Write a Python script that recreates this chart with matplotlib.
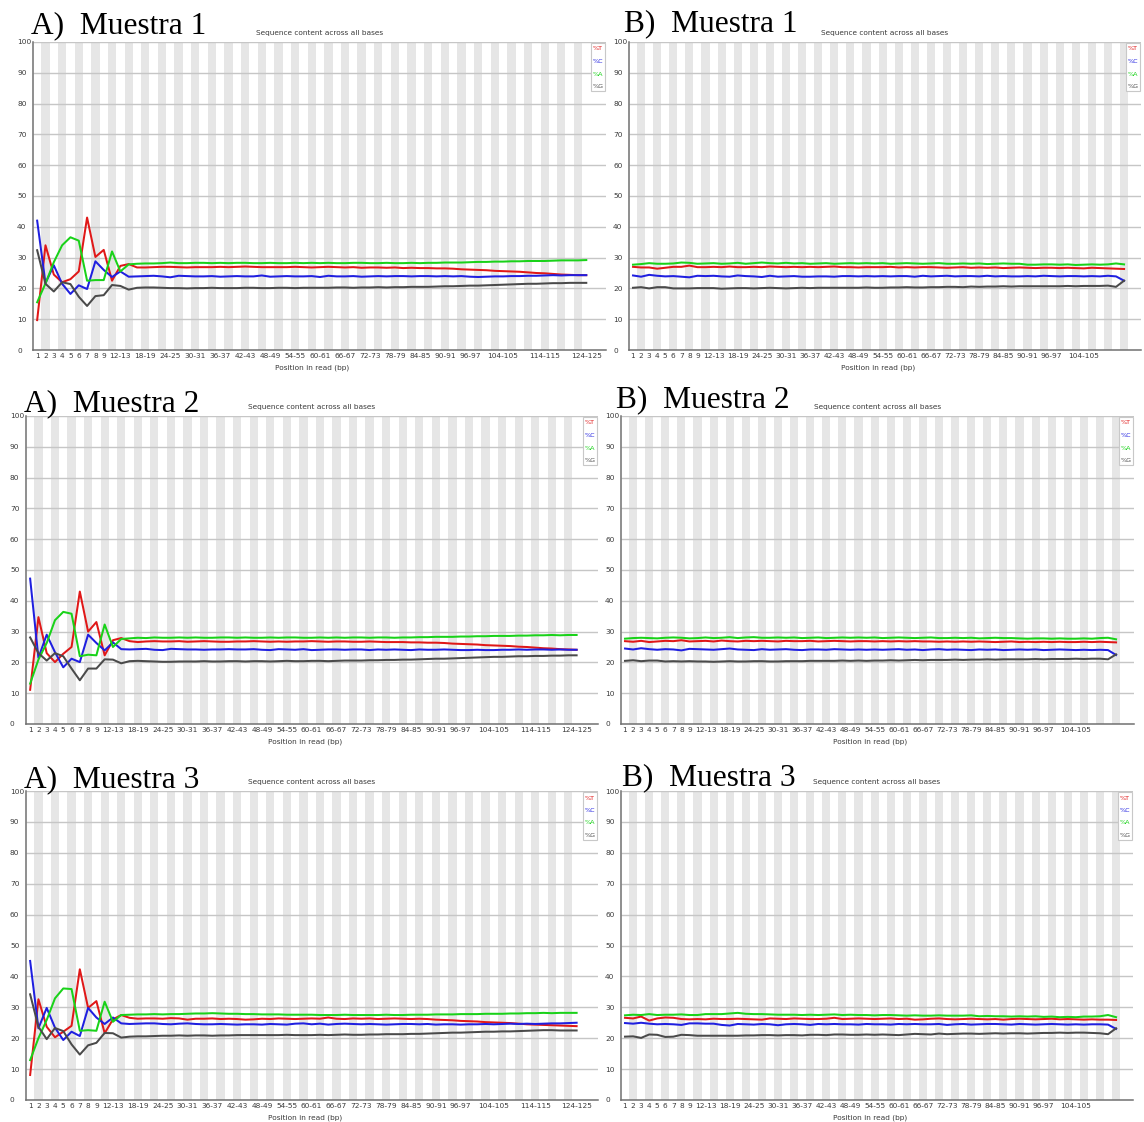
import numpy as np
import matplotlib
matplotlib.use("Agg")
import matplotlib.pyplot as plt
from matplotlib.patches import Rectangle

W, H = 1144, 1122

# ---------------------------------------------------------------------------
# Base-position groups (single bases 1-9, then 2-bp bins)
# ---------------------------------------------------------------------------
def base_groups(last_start):
    groups = [str(i) for i in range(1, 10)]
    groups += [f"{s}-{s + 1}" for s in range(10, last_start + 1, 2)]
    return groups

positions_A = base_groups(124)   # 1 .. 124-125  (67 groups)
positions_B = base_groups(114)   # 1 .. 114-115  (62 groups)

ticks_A = ["1", "2", "3", "4", "5", "6", "7", "8", "9", "12-13", "18-19",
           "24-25", "30-31", "36-37", "42-43", "48-49", "54-55", "60-61",
           "66-67", "72-73", "78-79", "84-85", "90-91", "96-97", "104-105",
           "114-115", "124-125"]
ticks_B = ticks_A[:-2]

# ---------------------------------------------------------------------------
# Percent of each base per position: A) raw reads, B) trimmed reads
# ---------------------------------------------------------------------------
A1_T = [9.7, 34.0, 24.5, 22.0, 23.0, 25.5, 43.0, 30.2, 32.5, 22.5,
        27.3, 27.9, 26.8, 26.8, 26.9, 27.0, 27.0, 26.9, 26.8, 26.9,
        26.9, 26.9, 27.0, 26.9, 27.0, 27.1, 27.0, 26.9, 26.9, 26.9,
        26.9, 27.0, 26.9, 26.8, 26.9, 27.0, 26.9, 26.8, 26.9, 26.7,
        26.8, 26.8, 26.7, 26.8, 26.6, 26.7, 26.6, 26.6, 26.5, 26.5,
        26.4, 26.2, 26.1, 26.0, 25.9, 25.7, 25.6, 25.5, 25.4, 25.2,
        25.0, 24.9, 24.7, 24.5, 24.4, 24.3, 24.3]
A1_C = [42.0, 21.7, 27.5, 21.5, 18.2, 21.0, 19.8, 28.8, 26.0, 23.7,
        25.5, 23.8, 23.9, 24.0, 24.1, 23.9, 23.6, 24.1, 24.0, 23.9,
        23.9, 24.0, 23.8, 23.9, 24.0, 23.9, 23.9, 24.2, 23.8, 23.9,
        24.0, 23.9, 23.9, 24.0, 23.7, 24.1, 23.9, 23.9, 24.0, 23.8,
        23.9, 24.0, 23.9, 24.0, 24.0, 23.9, 24.0, 24.0, 23.9, 24.0,
        23.9, 24.0, 23.8, 23.7, 23.8, 23.9, 23.9, 24.0, 24.0, 24.1,
        24.1, 24.2, 24.3, 24.2, 24.3, 24.3, 24.3]
A1_A = [15.5, 21.6, 28.5, 34.0, 36.6, 35.5, 22.5, 22.7, 22.7, 32.0,
        25.5, 27.8, 28.0, 28.1, 28.1, 28.2, 28.4, 28.2, 28.2, 28.3,
        28.3, 28.2, 28.3, 28.2, 28.3, 28.3, 28.2, 28.2, 28.3, 28.2,
        28.2, 28.3, 28.2, 28.3, 28.2, 28.3, 28.2, 28.2, 28.3, 28.3,
        28.2, 28.2, 28.3, 28.2, 28.2, 28.3, 28.2, 28.3, 28.3, 28.4,
        28.4, 28.4, 28.5, 28.6, 28.6, 28.7, 28.7, 28.8, 28.8, 28.9,
        28.9, 28.9, 29.0, 29.1, 29.1, 29.1, 29.2]
A1_G = [32.4, 21.5, 19.0, 22.0, 21.4, 17.3, 14.3, 17.5, 17.8, 21.1,
        20.8, 19.6, 20.2, 20.3, 20.3, 20.2, 20.1, 20.1, 20.0, 20.1,
        20.1, 20.2, 20.1, 20.1, 20.1, 20.2, 20.2, 20.1, 20.1, 20.2,
        20.2, 20.1, 20.2, 20.2, 20.2, 20.2, 20.3, 20.3, 20.2, 20.3,
        20.3, 20.4, 20.3, 20.4, 20.4, 20.5, 20.5, 20.5, 20.6, 20.7,
        20.7, 20.8, 20.9, 20.9, 21.0, 21.1, 21.2, 21.3, 21.4, 21.5,
        21.5, 21.6, 21.7, 21.7, 21.8, 21.8, 21.8]

A2_T = [11.1, 34.7, 23.0, 20.1, 22.8, 25.0, 43.0, 30.0, 33.1, 22.3,
        27.2, 27.9, 26.9, 26.6, 26.8, 26.9, 26.8, 26.8, 26.9, 26.7,
        26.8, 26.9, 26.8, 26.7, 26.7, 26.8, 26.8, 26.9, 26.8, 26.7,
        26.8, 26.7, 26.8, 26.8, 26.9, 26.8, 26.7, 26.8, 26.8, 26.7,
        26.7, 26.8, 26.7, 26.6, 26.6, 26.6, 26.5, 26.5, 26.4, 26.4,
        26.3, 26.1, 26.0, 25.9, 25.8, 25.6, 25.5, 25.4, 25.3, 25.1,
        25.0, 24.8, 24.6, 24.5, 24.3, 24.2, 24.1]
A2_C = [47.2, 21.5, 29.0, 23.3, 18.4, 21.2, 20.1, 29.0, 26.3, 23.9,
        26.5, 24.3, 24.2, 24.3, 24.4, 24.1, 24.0, 24.4, 24.3, 24.2,
        24.2, 24.1, 24.2, 24.2, 24.3, 24.2, 24.2, 24.3, 24.1, 24.0,
        24.3, 24.2, 24.1, 24.3, 24.0, 24.1, 24.2, 24.2, 24.1, 24.2,
        24.2, 24.0, 24.2, 24.1, 24.2, 24.1, 24.0, 24.2, 24.1, 24.1,
        24.2, 24.1, 24.0, 24.0, 24.1, 24.0, 24.0, 24.1, 24.1, 24.2,
        24.1, 24.2, 24.2, 24.1, 24.2, 24.1, 24.1]
A2_A = [13.1, 20.9, 26.3, 33.7, 36.4, 35.8, 22.0, 22.5, 22.3, 32.3,
        25.0, 27.6, 27.8, 28.0, 27.9, 28.1, 28.0, 28.0, 28.1, 28.0,
        28.1, 28.0, 28.0, 28.1, 28.1, 28.0, 28.1, 28.0, 28.0, 28.1,
        28.0, 28.1, 28.1, 28.0, 28.0, 28.1, 28.0, 28.1, 28.0, 28.1,
        28.1, 28.0, 28.1, 28.1, 28.0, 28.1, 28.1, 28.2, 28.2, 28.3,
        28.3, 28.3, 28.4, 28.4, 28.5, 28.5, 28.6, 28.6, 28.6, 28.7,
        28.7, 28.8, 28.8, 28.9, 28.8, 28.9, 28.9]
A2_G = [28.1, 23.0, 20.6, 23.0, 22.0, 18.0, 14.2, 18.0, 18.0, 21.0,
        20.9, 19.7, 20.4, 20.5, 20.4, 20.3, 20.2, 20.2, 20.3, 20.3,
        20.3, 20.4, 20.3, 20.3, 20.4, 20.4, 20.3, 20.4, 20.4, 20.3,
        20.4, 20.5, 20.4, 20.4, 20.5, 20.5, 20.4, 20.5, 20.6, 20.6,
        20.6, 20.7, 20.7, 20.8, 20.8, 20.9, 20.9, 21.0, 21.1, 21.2,
        21.2, 21.3, 21.4, 21.5, 21.6, 21.7, 21.8, 21.8, 21.9, 22.0,
        22.0, 22.1, 22.1, 22.2, 22.2, 22.3, 22.3]

A3_T = [8.1, 32.6, 23.7, 20.3, 22.1, 24.0, 42.3, 29.8, 32.0, 21.6,
        26.1, 27.5, 26.6, 26.3, 26.4, 26.4, 26.3, 26.5, 26.4, 26.0,
        26.3, 26.3, 26.4, 26.2, 26.3, 26.2, 26.0, 26.1, 26.3, 26.2,
        26.4, 26.3, 26.2, 26.3, 26.4, 26.3, 26.7, 26.3, 26.2, 26.4,
        26.3, 26.4, 26.2, 26.3, 26.4, 26.3, 26.2, 26.3, 26.2, 26.0,
        25.9, 25.8, 25.6, 25.5, 25.4, 25.2, 25.1, 25.0, 24.9, 24.7,
        24.5, 24.4, 24.3, 24.2, 24.1, 24.0, 23.9]
A3_C = [45.0, 23.2, 29.8, 23.4, 19.4, 22.1, 20.7, 29.8, 26.7, 24.6,
        26.7, 24.8, 24.6, 24.7, 24.8, 24.8, 24.6, 24.5, 24.7, 24.8,
        24.6, 24.5, 24.5, 24.6, 24.5, 24.4, 24.5, 24.5, 24.4, 24.6,
        24.5, 24.4, 24.7, 24.8, 24.5, 24.7, 24.4, 24.6, 24.7, 24.6,
        24.5, 24.6, 24.5, 24.4, 24.5, 24.6, 24.6, 24.5, 24.6, 24.4,
        24.5, 24.5, 24.4, 24.5, 24.5, 24.6, 24.5, 24.6, 24.7, 24.6,
        24.7, 24.6, 24.7, 24.8, 24.8, 24.9, 25.0]
A3_A = [12.9, 20.0, 25.9, 32.9, 36.1, 35.9, 22.4, 22.6, 22.4, 31.8,
        25.3, 27.5, 27.6, 27.7, 27.7, 27.8, 27.7, 27.8, 27.8, 27.9,
        28.0, 28.0, 28.1, 28.0, 27.9, 27.9, 27.8, 27.8, 27.7, 27.7,
        27.7, 27.6, 27.6, 27.6, 27.6, 27.5, 27.5, 27.5, 27.6, 27.5,
        27.5, 27.5, 27.5, 27.6, 27.5, 27.5, 27.6, 27.6, 27.6, 27.7,
        27.7, 27.7, 27.8, 27.8, 27.8, 27.9, 27.9, 27.9, 28.0, 28.0,
        28.1, 28.1, 28.2, 28.1, 28.2, 28.2, 28.2]
A3_G = [34.2, 23.7, 19.7, 23.3, 22.3, 18.0, 14.7, 17.7, 18.5, 21.7,
        21.6, 20.2, 20.5, 20.6, 20.6, 20.7, 20.8, 20.8, 20.9, 20.8,
        20.9, 20.9, 20.8, 20.9, 20.9, 21.0, 21.0, 21.0, 21.0, 21.0,
        21.0, 21.1, 21.0, 21.0, 21.0, 21.1, 21.0, 21.1, 21.2, 21.1,
        21.1, 21.2, 21.2, 21.3, 21.3, 21.3, 21.4, 21.4, 21.5, 21.6,
        21.7, 21.8, 21.8, 21.9, 22.0, 22.1, 22.1, 22.2, 22.2, 22.3,
        22.4, 22.5, 22.6, 22.6, 22.5, 22.5, 22.5]

B1_T = [27.0, 26.8, 26.8, 26.4, 26.7, 27.0, 27.0, 27.4, 26.9, 26.9,
        27.0, 26.9, 27.1, 26.9, 26.9, 27.0, 26.9, 27.1, 27.0, 26.9,
        27.0, 26.9, 27.0, 26.9, 27.0, 27.1, 26.9, 26.9, 26.8, 26.9,
        26.9, 26.9, 27.0, 26.8, 26.9, 26.8, 26.9, 26.9, 26.8, 26.7,
        26.8, 26.9, 26.7, 26.8, 26.7, 26.8, 26.6, 26.7, 26.8, 26.7,
        26.6, 26.7, 26.7, 26.6, 26.7, 26.6, 26.5, 26.7, 26.6, 26.5,
        26.4, 26.3]
B1_C = [24.2, 23.8, 24.4, 24.1, 23.9, 24.0, 23.8, 23.6, 24.1, 24.0,
        24.1, 23.9, 23.8, 24.2, 24.0, 23.9, 23.7, 24.1, 23.8, 23.9,
        24.0, 23.8, 23.8, 23.9, 23.9, 23.8, 24.0, 24.0, 23.9, 24.0,
        23.9, 24.0, 23.9, 24.0, 24.0, 23.8, 24.1, 23.9, 24.0, 24.1,
        23.9, 24.0, 24.0, 23.9, 24.1, 23.9, 24.0, 23.9, 23.9, 24.0,
        23.9, 24.1, 24.0, 23.9, 24.0, 24.0, 23.9, 24.0, 23.9, 24.1,
        23.9, 22.5]
B1_A = [27.7, 27.9, 28.2, 28.0, 28.0, 28.1, 28.4, 28.3, 28.0, 28.1,
        28.2, 28.0, 28.1, 28.3, 28.0, 28.2, 28.4, 28.2, 28.1, 28.3,
        28.1, 28.2, 28.0, 28.1, 28.2, 28.0, 28.1, 28.2, 28.1, 28.2,
        28.1, 28.2, 28.0, 28.1, 28.2, 28.1, 28.0, 28.1, 28.2, 28.0,
        28.0, 28.1, 28.0, 28.1, 27.9, 28.0, 28.1, 28.0, 28.0, 27.7,
        27.7, 27.8, 27.8, 27.7, 27.8, 27.6, 27.7, 27.8, 27.7, 27.8,
        28.1, 27.8]
B1_G = [20.2, 20.4, 20.0, 20.4, 20.4, 20.0, 20.0, 20.0, 20.1, 20.1,
        20.1, 19.9, 20.0, 20.1, 20.1, 20.0, 20.1, 20.2, 20.1, 20.0,
        20.1, 20.2, 20.1, 20.2, 20.2, 20.2, 20.2, 20.2, 20.2, 20.3,
        20.2, 20.2, 20.3, 20.3, 20.4, 20.3, 20.3, 20.4, 20.4, 20.5,
        20.5, 20.4, 20.6, 20.5, 20.6, 20.6, 20.7, 20.6, 20.7, 20.7,
        20.7, 20.7, 20.7, 20.7, 20.8, 20.7, 20.8, 20.8, 20.8, 20.9,
        20.5, 22.5]

B2_T = [26.9, 26.7, 27.0, 26.6, 26.8, 27.0, 26.9, 27.2, 26.8, 26.9,
        27.0, 26.8, 27.1, 26.9, 26.8, 27.0, 26.9, 27.0, 26.9, 26.8,
        27.0, 26.9, 26.9, 27.0, 26.8, 26.9, 27.0, 26.9, 26.8, 26.9,
        26.9, 26.8, 26.9, 26.8, 26.9, 26.8, 26.9, 26.8, 26.8, 26.7,
        26.8, 26.7, 26.8, 26.7, 26.8, 26.7, 26.6, 26.7, 26.8, 26.6,
        26.7, 26.6, 26.7, 26.6, 26.7, 26.6, 26.6, 26.7, 26.6, 26.7,
        26.6, 26.5]
B2_C = [24.5, 24.2, 24.6, 24.3, 24.1, 24.3, 24.2, 23.9, 24.4, 24.3,
        24.2, 24.1, 24.3, 24.5, 24.2, 24.1, 24.0, 24.3, 24.1, 24.2,
        24.3, 24.1, 24.0, 24.2, 24.2, 24.1, 24.3, 24.2, 24.1, 24.2,
        24.1, 24.2, 24.1, 24.2, 24.3, 24.1, 24.2, 24.0, 24.2, 24.3,
        24.1, 24.2, 24.1, 24.0, 24.2, 24.1, 24.2, 24.0, 24.1, 24.2,
        24.1, 24.2, 24.0, 24.1, 24.2, 24.1, 24.0, 24.1, 24.0, 24.1,
        24.0, 22.4]
B2_A = [27.7, 27.9, 28.0, 27.9, 27.8, 28.0, 28.1, 28.0, 27.8, 27.9,
        28.1, 27.9, 28.0, 28.2, 27.9, 28.1, 28.2, 28.0, 28.0, 28.1,
        28.0, 28.1, 27.9, 28.0, 28.1, 27.9, 28.0, 28.1, 28.0, 28.1,
        28.0, 28.1, 27.9, 28.0, 28.1, 28.0, 27.9, 28.0, 28.1, 27.9,
        27.9, 28.0, 27.9, 28.0, 27.8, 27.9, 28.0, 27.9, 27.9, 27.8,
        27.7, 27.8, 27.8, 27.7, 27.8, 27.7, 27.7, 27.8, 27.7, 27.9,
        28.0, 27.5]
B2_G = [20.5, 20.7, 20.4, 20.6, 20.6, 20.3, 20.4, 20.3, 20.4, 20.3,
        20.3, 20.2, 20.3, 20.4, 20.3, 20.3, 20.4, 20.4, 20.3, 20.3,
        20.4, 20.4, 20.4, 20.5, 20.5, 20.5, 20.5, 20.6, 20.5, 20.6,
        20.5, 20.6, 20.6, 20.7, 20.6, 20.7, 20.8, 20.7, 20.8, 20.8,
        20.8, 20.9, 20.8, 20.9, 20.9, 21.0, 20.9, 21.0, 21.0, 21.0,
        21.0, 21.1, 21.0, 21.1, 21.1, 21.1, 21.2, 21.1, 21.2, 21.2,
        21.0, 22.6]

B3_T = [26.6, 26.4, 27.0, 25.7, 26.4, 26.7, 26.6, 26.2, 26.1, 26.2,
        26.1, 26.3, 26.2, 26.2, 26.3, 26.2, 26.1, 26.0, 26.4, 26.3,
        26.2, 26.4, 26.3, 26.2, 26.2, 26.3, 26.6, 26.2, 26.3, 26.4,
        26.3, 26.2, 26.3, 26.4, 26.2, 26.3, 26.0, 26.1, 26.3, 26.4,
        26.2, 26.1, 26.2, 26.3, 26.2, 26.1, 26.2, 26.0, 26.2, 26.3,
        26.2, 26.1, 26.2, 26.3, 26.1, 26.2, 26.1, 26.0, 26.1, 26.0,
        26.0, 25.9]
B3_C = [24.9, 24.7, 25.0, 24.7, 24.5, 24.6, 24.5, 24.3, 24.8, 24.8,
        24.7, 24.7, 24.3, 24.1, 24.6, 24.5, 24.4, 24.6, 24.5, 24.2,
        24.5, 24.6, 24.5, 24.3, 24.6, 24.5, 24.6, 24.5, 24.5, 24.4,
        24.6, 24.5, 24.5, 24.4, 24.6, 24.5, 24.6, 24.5, 24.5, 24.6,
        24.3, 24.5, 24.6, 24.4, 24.5, 24.6, 24.6, 24.5, 24.4, 24.6,
        24.5, 24.4, 24.5, 24.6, 24.5, 24.4, 24.5, 24.4, 24.5, 24.5,
        24.4, 23.0]
B3_A = [27.4, 27.6, 27.5, 27.8, 27.5, 27.6, 27.6, 27.7, 27.5, 27.5,
        27.8, 27.8, 27.8, 28.0, 28.2, 27.9, 27.8, 27.8, 27.7, 27.6,
        27.6, 27.6, 27.5, 27.6, 27.5, 27.6, 27.7, 27.5, 27.6, 27.5,
        27.5, 27.4, 27.5, 27.5, 27.4, 27.3, 27.4, 27.3, 27.3, 27.4,
        27.3, 27.3, 27.3, 27.4, 27.1, 27.2, 27.1, 27.1, 27.0, 27.1,
        27.0, 27.1, 26.9, 27.0, 26.8, 26.9, 26.8, 27.0, 27.0, 27.1,
        27.5, 26.8]
B3_G = [20.5, 20.6, 20.1, 21.2, 21.1, 20.4, 20.5, 21.1, 21.0, 20.8,
        20.8, 20.8, 20.8, 20.8, 20.8, 20.9, 20.9, 21.0, 21.0, 20.9,
        21.0, 21.0, 20.9, 21.1, 21.1, 21.0, 21.2, 21.2, 21.1, 21.1,
        21.2, 21.1, 21.2, 21.1, 21.0, 21.2, 21.4, 21.3, 21.2, 21.5,
        21.3, 21.4, 21.5, 21.5, 21.4, 21.5, 21.6, 21.5, 21.6, 21.6,
        21.5, 21.6, 21.7, 21.7, 21.8, 21.7, 21.8, 21.8, 21.7, 21.6,
        21.3, 23.2]

bases = ["%T", "%C", "%A", "%G"]
base_colors = ["#e01818", "#1f1fe0", "#19d219", "#4a4a4a"]

panel_titles = ["A)  Muestra 1", "B)  Muestra 1",
                "A)  Muestra 2", "B)  Muestra 2",
                "A)  Muestra 3", "B)  Muestra 3"]
plot_title = "Sequence content across all bases"
x_title = "Position in read (bp)"

# Panel layout in pixels: plot left/right, y of 100 and 0, group width,
# heading anchor (x, baseline)
panels = [
    dict(series=[A1_T, A1_C, A1_A, A1_G], cats=positions_A, ticks=ticks_A,
         x0=33, x1=606, ytop=42, ybot=350, bw=8.32, anchor=(31, 33)),
    dict(series=[B1_T, B1_C, B1_A, B1_G], cats=positions_B, ticks=ticks_B,
         x0=629, x1=1141, ytop=42, ybot=350, bw=8.05, anchor=(624, 31)),
    dict(series=[A2_T, A2_C, A2_A, A2_G], cats=positions_A, ticks=ticks_A,
         x0=26, x1=598, ytop=416, ybot=724, bw=8.28, anchor=(24, 411)),
    dict(series=[B2_T, B2_C, B2_A, B2_G], cats=positions_B, ticks=ticks_B,
         x0=621, x1=1134, ytop=416, ybot=724, bw=8.05, anchor=(616, 407)),
    dict(series=[A3_T, A3_C, A3_A, A3_G], cats=positions_A, ticks=ticks_A,
         x0=26, x1=598, ytop=791, ybot=1100, bw=8.28, anchor=(24, 787)),
    dict(series=[B3_T, B3_C, B3_A, B3_G], cats=positions_B, ticks=ticks_B,
         x0=621, x1=1133, ytop=791, ybot=1100, bw=8.05, anchor=(622, 785)),
]


def fx(x):
    return x / W


def fy(y):
    return 1 - y / H


SMALL = 5.3
TXT = "#3a3a3a"

fig = plt.figure(figsize=(W / 100, H / 100), dpi=100)
fig.patch.set_facecolor("white")

for p, heading in zip(panels, panel_titles):
    x0, x1, ytop, ybot, bw = p["x0"], p["x1"], p["ytop"], p["ybot"], p["bw"]
    cats = p["cats"]
    n = len(cats)
    ax = fig.add_axes([fx(x0), fy(ybot), (x1 - x0) / W, (ybot - ytop) / H])
    xmax = (x1 - x0) / bw
    ax.set_xlim(0, xmax)
    ax.set_ylim(0, 100)
    ax.set_facecolor("white")

    # alternating background bands
    idx = np.arange(n)
    odd = idx[idx % 2 == 1]
    ax.bar(odd + 0.5, 100, width=1.0, bottom=0, color="#e6e6e6",
           linewidth=0, zorder=1)
    # horizontal grid
    yt = np.arange(0, 101, 10)
    ax.hlines(yt[1:], 0, xmax, colors="#c6c6c6", linewidth=1.0, zorder=1.5)

    for vals, col in zip(p["series"], base_colors):
        xs = np.arange(len(vals)) + 0.5
        ax.plot(xs, vals, color=col, linewidth=1.45, zorder=3,
                solid_joinstyle="round")

    for side in ("top", "right"):
        ax.spines[side].set_visible(False)
    for side in ("left", "bottom"):
        ax.spines[side].set_color("#707070")
        ax.spines[side].set_linewidth(1.1)
        ax.spines[side].set_zorder(4)

    ax.set_yticks(yt)
    ax.set_yticklabels([str(v) for v in yt], ha="left")
    ax.tick_params(axis="y", length=0, pad=16 * 0.72, labelsize=SMALL,
                   labelcolor=TXT)
    tick_idx = [cats.index(t) for t in p["ticks"]]
    ax.set_xticks(np.array(tick_idx) + 0.5)
    ax.set_xticklabels(p["ticks"])
    ax.tick_params(axis="x", length=0, pad=2.5, labelsize=SMALL,
                   labelcolor=TXT)

    # legend box
    lx0, lx1 = x1 - 15, x1 - 1
    fig.add_artist(Rectangle((fx(lx0), fy(ytop + 49)), (lx1 - lx0) / W,
                             48 / H, transform=fig.transFigure,
                             facecolor="white", edgecolor="#c8c8c8",
                             linewidth=0.8, zorder=5))
    for k, (b, col) in enumerate(zip(bases, base_colors)):
        fig.text(fx(lx0 + 1.5), fy(ytop + 7 + 12.5 * k), b, color=col,
                 fontsize=4.6, ha="left", va="center", zorder=6)

    cx = (x0 + x1) / 2
    fig.text(fx(cx), fy(ytop - 9), plot_title, fontsize=SMALL, color=TXT,
             ha="center", va="center")
    fig.text(fx(cx - 7), fy(ybot + 18), x_title, fontsize=SMALL, color=TXT,
             ha="center", va="center")
    ax_x, ax_y = p["anchor"]
    fig.text(fx(ax_x), fy(ax_y), heading, family="Liberation Serif",
             fontsize=22.6, ha="left", va="baseline", color="black")

fig.savefig("out.png", dpi=100, facecolor="white")
